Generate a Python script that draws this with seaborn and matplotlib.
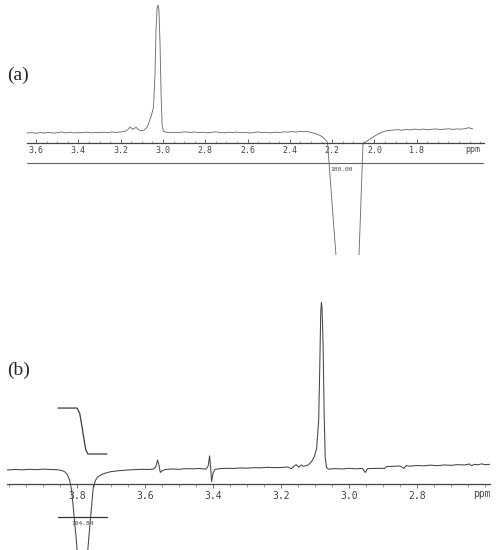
import matplotlib
matplotlib.use('Agg')
import matplotlib.pyplot as plt
import seaborn as sns
import pandas as pd
from matplotlib.ticker import MultipleLocator

# --- spectrum (a): ppm vs intensity (main peak = 100) ---
ppm_a = [3.643, 3.62, 3.60, 3.58, 3.56, 3.54, 3.52, 3.50, 3.48, 3.46, 3.44, 3.42,
         3.40, 3.38, 3.36, 3.34, 3.32, 3.30, 3.28, 3.26, 3.24, 3.22, 3.20, 3.18,
         3.165, 3.155, 3.145, 3.135, 3.127, 3.118, 3.105, 3.09, 3.075, 3.065, 3.055,
         3.045, 3.038, 3.033, 3.028, 3.024, 3.019, 3.014, 3.009, 3.004, 2.998, 2.99,
         2.97, 2.95, 2.93, 2.91, 2.89, 2.87, 2.85, 2.83, 2.81, 2.79, 2.77, 2.75,
         2.73, 2.71, 2.69, 2.67, 2.65, 2.63, 2.61, 2.59, 2.57, 2.55, 2.53, 2.51,
         2.49, 2.47, 2.45, 2.43, 2.41, 2.39, 2.37, 2.35, 2.33, 2.32, 2.305, 2.285,
         2.27, 2.258, 2.245, 2.232, 2.222, 2.18, 2.16, 2.09, 2.074, 2.054, 2.036,
         2.02, 2.00, 1.98, 1.95, 1.914, 1.89, 1.87, 1.85, 1.83, 1.81, 1.79, 1.77,
         1.75, 1.73, 1.71, 1.69, 1.67, 1.65, 1.63, 1.61, 1.59, 1.57, 1.555, 1.545,
         1.536]
int_a = [0.0, 0.3, -0.2, 0.4, 0.0, 0.5, -0.1, 0.3, 0.8, 0.1, 0.6, 0.0,
         0.4, 0.2, 0.7, 0.1, 0.5, 0.2, 0.6, 0.3, 0.8, 0.4, 0.9, 1.2,
         2.8, 4.7, 3.0, 3.6, 4.6, 2.8, 1.8, 2.2, 4.5, 9.0, 13.5,
         20.0, 45.0, 80.0, 97.0, 100.0, 96.0, 70.0, 30.0, 6.0, 1.5, 0.8,
         0.3, 0.6, 0.2, 0.7, 0.9, 0.4, 0.8, 0.3, 0.6, 0.1, 0.5, 0.9,
         0.4, 0.2, 0.6, 0.3, 0.7, 0.2, 0.5, 0.0, 0.4, 0.8, 0.3, 0.5,
         0.1, 0.6, 0.4, 0.9, 0.7, 1.1, 0.8, 1.2, 1.0, 1.3, 0.6, -0.2,
         -1.0, -1.8, -3.2, -5.2, -7.5, -100.0, -130.0, -130.0, -100.0, -8.0, -6.5,
         -4.5, -2.5, -0.5, 1.5, 2.3, 2.6, 2.2, 2.8, 2.4, 3.0, 2.6, 3.1,
         2.5, 2.9, 3.2, 2.7, 3.0, 3.3, 2.8, 3.2, 3.0, 3.4, 4.2, 3.6,
         3.3]

# --- spectrum (b) ---
ppm_b = [4.006, 3.98, 3.96, 3.94, 3.92, 3.90, 3.88, 3.86, 3.845, 3.835, 3.828,
         3.822, 3.816, 3.803, 3.797, 3.771, 3.765, 3.752, 3.745, 3.738, 3.725,
         3.71, 3.70, 3.68, 3.65, 3.63, 3.61, 3.59, 3.575, 3.568, 3.563, 3.559,
         3.555, 3.55, 3.54, 3.52, 3.50, 3.48, 3.46, 3.44, 3.42, 3.414, 3.410,
         3.407, 3.404, 3.400, 3.395, 3.38, 3.36, 3.34, 3.32, 3.30, 3.28, 3.26,
         3.24, 3.22, 3.20, 3.18, 3.17, 3.160, 3.155, 3.148, 3.140, 3.133, 3.12,
         3.11, 3.102, 3.095, 3.089, 3.086, 3.083, 3.081, 3.079, 3.076, 3.073,
         3.070, 3.066, 3.06, 3.04, 3.02, 3.00, 2.98, 2.96, 2.952, 2.945, 2.93,
         2.91, 2.895, 2.89, 2.87, 2.85, 2.838, 2.832, 2.82, 2.80, 2.78, 2.76,
         2.74, 2.72, 2.70, 2.68, 2.66, 2.645, 2.64, 2.63, 2.62, 2.61, 2.60, 2.585]
int_b = [0.0, 0.3, 0.1, 0.4, 0.2, 0.5, 0.3, 0.2, -0.3, -1.2, -3.0,
         -6.0, -12.0, -40.0, -55.0, -55.0, -40.0, -10.0, -6.0, -4.0, -2.5,
         -1.5, -1.0, -0.5, 0.0, 0.2, 0.4, 0.3, 0.5, 2.0, 6.0, 3.0,
         -1.5, -0.5, 0.3, 0.6, 0.4, 0.8, 0.7, 0.9, 0.5, 2.5, 8.5,
         2.0, -7.0, -2.0, 0.3, 0.8, 1.0, 0.9, 1.2, 1.1, 1.4, 1.3,
         1.6, 1.4, 1.5, 1.8, 0.8, 2.5, 3.2, 1.6, 3.0, 2.2, 3.0,
         5.0, 8.0, 13.0, 30.0, 60.0, 95.0, 101.0, 97.0, 75.0, 35.0,
         8.0, 1.5, 0.5, 0.8, 0.6, 1.0, 0.7, 0.9, -1.5, 0.8, 0.9,
         1.0, 0.9, 2.0, 2.2, 2.4, 1.0, 2.6, 2.3, 2.7, 2.5, 2.9,
         2.6, 3.0, 2.8, 3.2, 3.0, 3.6, 2.6, 3.4, 3.1, 3.7, 3.2, 3.4]

# integral trace and bars
int_curve_ppm = [3.856, 3.800, 3.792, 3.786, 3.780, 3.774, 3.768, 3.712]
int_curve_val = [37.3, 37.3, 34.0, 27.0, 19.0, 12.0, 9.6, 9.6]
integral_a = "100.00"
integral_b = "104.84"

ticks_a = [3.6, 3.4, 3.2, 3.0, 2.8, 2.6, 2.4, 2.2, 2.0, 1.8]
ticks_b = [3.8, 3.6, 3.4, 3.2, 3.0, 2.8]

sns.set_style('white')
fig = plt.figure(figsize=(5, 5.5), dpi=100)

# panel (a)
ax_a = fig.add_axes([27 / 500, 1 - 255 / 550, 457 / 500, 255 / 550])
df_a = pd.DataFrame({'ppm': ppm_a, 'I': int_a})
sns.lineplot(data=df_a, x='ppm', y='I', ax=ax_a, sort=False, estimator=None,
             color='#6e6e6e', lw=0.65)
ax_a.set_xlim(3.643, 1.482)
ax_a.set_ylim(-95.3, 103.9)
ax_a.axhline(-23.4, color='#666666', lw=0.8)
ax_a.text(2.155, -26.5, integral_a, fontsize=4.5, family='DejaVu Sans Mono',
          ha='center', va='top', color='#444444')
ax_a.text(1.536, -9.5, 'ppm', fontsize=6, family='DejaVu Sans Mono',
          ha='center', va='top', color='#444444')

# panel (b)
ax_b = fig.add_axes([7 / 500, 0, 483 / 500, 260 / 550])
df_b = pd.DataFrame({'ppm': ppm_b, 'I': int_b})
sns.lineplot(data=df_b, x='ppm', y='I', ax=ax_b, sort=False, estimator=None,
             color='#454545', lw=0.75)
sns.lineplot(x=int_curve_ppm, y=int_curve_val, ax=ax_b, sort=False,
             estimator=None, color='#3c3c3c', lw=0.9)
ax_b.set_xlim(4.006, 2.585)
ax_b.set_ylim(-48.2, 108.4)
ax_b.plot([int_curve_ppm[0], int_curve_ppm[-1]], [-28.3, -28.3],
          color='#333333', lw=0.9)
ax_b.text(3.785, -30.5, integral_b, fontsize=4.5, family='DejaVu Sans Mono',
          ha='center', va='top', color='#444444')
ax_b.text(2.61, -11.5, 'ppm', fontsize=7, family='DejaVu Sans Mono',
          ha='center', va='top', color='#444444')

for ax, ticks, axis_y, fs, tdir in [(ax_a, ticks_a, -7.8, 6, 'in'),
                                    (ax_b, ticks_b, -8.5, 7, 'out')]:
    for s in ['top', 'left', 'right']:
        ax.spines[s].set_visible(False)
    ax.spines['bottom'].set_position(('data', axis_y))
    ax.spines['bottom'].set_color('#444444')
    ax.spines['bottom'].set_linewidth(0.9)
    ax.set_xticks(ticks)
    ax.set_xticklabels([f'{t:.1f}' for t in ticks], fontsize=fs,
                       family='DejaVu Sans Mono', color='#444444')
    ax.xaxis.set_minor_locator(MultipleLocator(0.05))
    ax.tick_params(axis='x', which='major', direction=tdir, length=3,
                   width=0.6, color='#555555', pad=2, bottom=True)
    ax.tick_params(axis='x', which='minor', direction=tdir, length=1.8,
                   width=0.5, color='#777777', bottom=True)
    ax.set_yticks([])
    ax.set_xlabel('')
    ax.set_ylabel('')
    ax.patch.set_alpha(0)

fig.text(7 / 500, 1 - 75 / 550, '(a)', fontsize=14, family='Liberation Serif',
         ha='left', va='center')
fig.text(7 / 500, 1 - 370 / 550, '(b)', fontsize=14, family='Liberation Serif',
         ha='left', va='center')

fig.savefig('out.png', dpi=100)
